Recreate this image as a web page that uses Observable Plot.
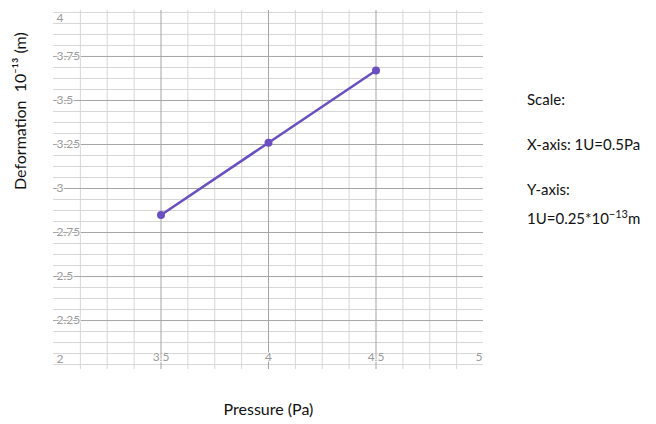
<!DOCTYPE html>
<html>
<head>
<meta charset="utf-8">
<script src="https://cdn.jsdelivr.net/npm/d3@7"></script>
<script src="https://cdn.jsdelivr.net/npm/@observablehq/plot@0.6"></script>
<style>
  html, body { margin: 0; padding: 0; background: #fff; }
  #wrap { position: relative; width: 656px; height: 424px; font-family: Lato, "Open Sans", sans-serif; }
  .note { position: absolute; left: 527px; font-size: 15px; color: #111; white-space: nowrap; }
</style>
</head>
<body>
<div id="wrap"></div>
<script>
// Data
const pressure = [3.5, 4, 4.5];
const deformation = [2.85, 3.26, 3.67];
const xTickLabels = ["3.5", "4", "4.5", "5"];
const xTickValues = [3.5, 4, 4.5, 5];
const yTickLabels = ["2", "2.25", "2.5", "2.75", "3", "3.25", "3.5", "3.75", "4"];
const yTickValues = [2, 2.25, 2.5, 2.75, 3, 3.25, 3.5, 3.75, 4];
const xMinor = d3.range(3.125, 4.99, 0.125).filter(v => Math.abs(v * 2 - Math.round(v * 2)) > 1e-9);
const xMajor = [3.5, 4, 4.5];
const yMinor = d3.range(2, 4.001, 0.0625).filter(v => Math.abs(v * 4 - Math.round(v * 4)) > 1e-9 || v === 2 || v === 4);
const yMajor = [2.25, 2.5, 2.75, 3, 3.25, 3.5, 3.75];

const points = pressure.map((p, i) => ({p, d: deformation[i]}));
const yTicks = yTickValues.map((v, i) => ({v, label: yTickLabels[i]}));
const xTicks = xTickValues.map((v, i) => ({v, label: xTickLabels[i]}));

const tickStyle = {fill: "#9a9a9a", fontSize: 12, stroke: "white", strokeWidth: 2};

const chart = Plot.plot({
  width: 656,
  height: 424,
  marginLeft: 53,
  marginRight: 173,
  marginTop: 10,
  marginBottom: 55,
  x: {domain: [3, 5], axis: null},
  y: {domain: [1.972, 4.011], axis: null},
  style: {fontFamily: "Lato, 'Open Sans', sans-serif", background: "#fff"},
  marks: [
    Plot.ruleX(xMinor, {stroke: "#d6d6d6", strokeWidth: 1}),
    Plot.ruleY(yMinor, {stroke: "#d6d6d6", strokeWidth: 1}),
    Plot.ruleY(yMajor, {stroke: "#a5a5a5", strokeWidth: 1}),
    Plot.ruleX(xMajor, {stroke: "#a5a5a5", strokeWidth: 1}),
    Plot.text(yTicks.filter(d => d.v > 2 && d.v < 4), {
      y: "v", text: "label", frameAnchor: "left", textAnchor: "start", dx: 3, ...tickStyle
    }),
    Plot.text(yTicks.filter(d => d.v === 4), {
      y: "v", text: "label", frameAnchor: "left", textAnchor: "start", dx: 3, dy: 6, ...tickStyle
    }),
    Plot.text(yTicks.filter(d => d.v === 2), {
      y: "v", text: "label", frameAnchor: "left", textAnchor: "start", dx: 3, dy: -5, ...tickStyle
    }),
    Plot.text(xTicks.filter(d => d.v < 5), {
      x: "v", text: "label", frameAnchor: "bottom", dy: -9, ...tickStyle
    }),
    Plot.text(xTicks.filter(d => d.v === 5), {
      x: "v", text: "label", frameAnchor: "bottom", dy: -9, textAnchor: "end", dx: -1, ...tickStyle
    }),
    Plot.line(points, {x: "p", y: "d", stroke: "#6a4fc0", strokeWidth: 2.5}),
    Plot.dot(points, {x: "p", y: "d", r: 4, fill: "#6a4fc0"}),
    Plot.text(["Pressure (Pa)"], {frameAnchor: "bottom", dy: 45, fontSize: 16, fill: "#111", x: () => 4}),
    Plot.text(["Deformation  10\u207B\u00B9\u00B3 (m)"], {frameAnchor: "left", dx: -33, rotate: -90, fontSize: 16, fill: "#111"})
  ]
});

const wrap = document.getElementById("wrap");
wrap.appendChild(chart);

const notes = [
  {text: "Scale:", top: 90},
  {text: "X-axis: 1U=0.5Pa", top: 135},
  {text: "Y-axis:", top: 180},
  {html: "1U=0.25*10<sup style='font-size:11px;vertical-align:6px'>\u221213</sup>m", top: 207}
];
for (const n of notes) {
  const div = document.createElement("div");
  div.className = "note";
  div.style.top = n.top + "px";
  if (n.html) div.innerHTML = n.html; else div.textContent = n.text;
  wrap.appendChild(div);
}
</script>
</body>
</html>
